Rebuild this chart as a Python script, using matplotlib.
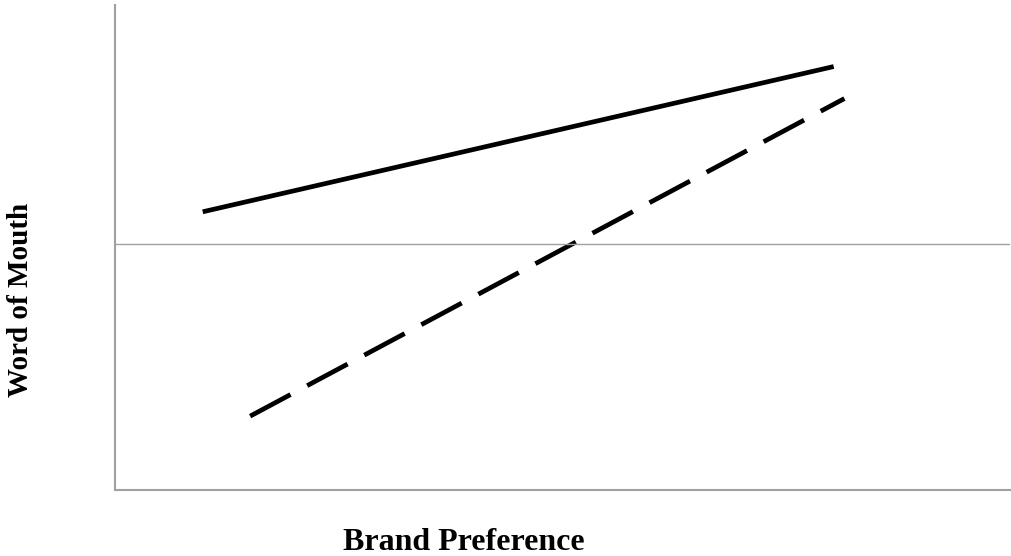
import matplotlib
matplotlib.use('Agg')
import matplotlib.pyplot as plt

# two regression lines (arbitrary units)
solid_x = [0.98, 8.03]
solid_y = [0.13, 0.72]
dash_x = [1.51, 8.15]
dash_y = [-0.70, 0.59]

fig = plt.figure(figsize=(10.11, 5.56), dpi=100)
ax = fig.add_axes([115 / 1011, 66 / 556, 895 / 1011, 485 / 556])

ax.plot(solid_x, solid_y, color='black', linewidth=3.4, solid_capstyle='butt')
ax.plot(dash_x, dash_y, color='black', linewidth=3.4, dashes=(9.7, 4.0), dash_capstyle='butt')
ax.axhline(0, color='#a0a0a0', linewidth=1)

ax.set_xlim(0, 10)
ax.set_ylim(-1.0, 0.97)
ax.set_xticks([])
ax.set_yticks([])
for s in ['top', 'right']:
    ax.spines[s].set_visible(False)
for s in ['left', 'bottom']:
    ax.spines[s].set_color('#a0a0a0')
    ax.spines[s].set_linewidth(1.5)

fig.text(464 / 1011, 1 - 542 / 556, 'Brand Preference', ha='center', va='center',
         family='Liberation Serif', fontweight='bold', fontsize=23)
fig.text(21 / 1011, 1 - 300 / 556, 'Word of Mouth', ha='center', va='center', rotation=90,
         family='Liberation Serif', fontweight='bold', fontsize=21)

fig.savefig('out.png', dpi=100)
